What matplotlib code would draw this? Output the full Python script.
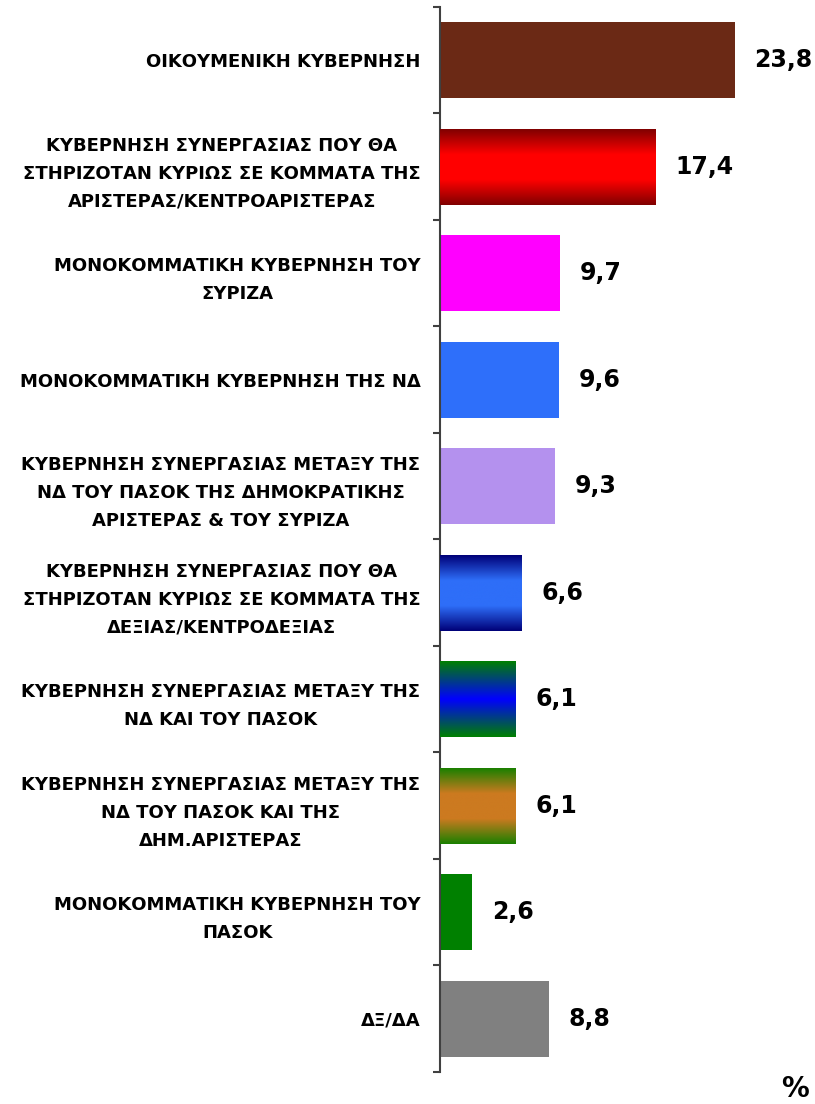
import numpy as np
import matplotlib.pyplot as plt
from matplotlib.colors import LinearSegmentedColormap

# Δεδομένα του γραφήματος
labels = [
    "ΟΙΚΟΥΜΕΝΙΚΗ ΚΥΒΕΡΝΗΣΗ",
    "ΚΥΒΕΡΝΗΣΗ ΣΥΝΕΡΓΑΣΙΑΣ ΠΟΥ ΘΑ\nΣΤΗΡΙΖΟΤΑΝ ΚΥΡΙΩΣ ΣΕ ΚΟΜΜΑΤΑ ΤΗΣ\nΑΡΙΣΤΕΡΑΣ/ΚΕΝΤΡΟΑΡΙΣΤΕΡΑΣ",
    "ΜΟΝΟΚΟΜΜΑΤΙΚΗ ΚΥΒΕΡΝΗΣΗ ΤΟΥ\nΣΥΡΙΖΑ",
    "ΜΟΝΟΚΟΜΜΑΤΙΚΗ ΚΥΒΕΡΝΗΣΗ ΤΗΣ ΝΔ",
    "ΚΥΒΕΡΝΗΣΗ ΣΥΝΕΡΓΑΣΙΑΣ ΜΕΤΑΞΥ ΤΗΣ\nΝΔ ΤΟΥ ΠΑΣΟΚ ΤΗΣ ΔΗΜΟΚΡΑΤΙΚΗΣ\nΑΡΙΣΤΕΡΑΣ & ΤΟΥ ΣΥΡΙΖΑ",
    "ΚΥΒΕΡΝΗΣΗ ΣΥΝΕΡΓΑΣΙΑΣ ΠΟΥ ΘΑ\nΣΤΗΡΙΖΟΤΑΝ ΚΥΡΙΩΣ ΣΕ ΚΟΜΜΑΤΑ ΤΗΣ\nΔΕΞΙΑΣ/ΚΕΝΤΡΟΔΕΞΙΑΣ",
    "ΚΥΒΕΡΝΗΣΗ ΣΥΝΕΡΓΑΣΙΑΣ ΜΕΤΑΞΥ ΤΗΣ\nΝΔ ΚΑΙ ΤΟΥ ΠΑΣΟΚ",
    "ΚΥΒΕΡΝΗΣΗ ΣΥΝΕΡΓΑΣΙΑΣ ΜΕΤΑΞΥ ΤΗΣ\nΝΔ ΤΟΥ ΠΑΣΟΚ ΚΑΙ ΤΗΣ\nΔΗΜ.ΑΡΙΣΤΕΡΑΣ",
    "ΜΟΝΟΚΟΜΜΑΤΙΚΗ ΚΥΒΕΡΝΗΣΗ ΤΟΥ\nΠΑΣΟΚ",
    "ΔΞ/ΔΑ",
]
values = [23.8, 17.4, 9.7, 9.6, 9.3, 6.6, 6.1, 6.1, 2.6, 8.8]
value_text = ["23,8", "17,4", "9,7", "9,6", "9,3", "6,6", "6,1", "6,1", "2,6", "8,8"]

# Χρώματα: μονό χρώμα ή λίστα χρωμάτων (από πάνω προς τα κάτω) για διαβάθμιση
colors = [
    "#6B2915",
    ["#800000", "#FF0000", "#FF0000", "#800000"],
    "#FF00FF",
    "#2E6FFA",
    "#B491EE",
    ["#000078", "#2E6EF8", "#2E6EF8", "#000078"],
    ["#008000", "#0000FF", "#008000"],
    ["#1A8000", "#CC7A20", "#CC7A20", "#1A8000"],
    "#008000",
    "#808080",
]

fig = plt.figure(figsize=(8.15, 11.04), dpi=100)
ax = fig.add_axes([440 / 815, 1 - 1072 / 1104, 1 - 440 / 815, (1072 - 7) / 1104])

n = len(values)
y = np.arange(n)
bar_h = 0.71
bars = ax.barh(y, values, height=bar_h, color=[c if isinstance(c, str) else c[1] for c in colors],
               edgecolor="none", zorder=2)

# Διαβάθμιση στις μπάρες που τη χρειάζονται
grad = np.linspace(0, 1, 256).reshape(-1, 1)
for b, c in zip(bars, colors):
    if isinstance(c, str):
        continue
    cmap = LinearSegmentedColormap.from_list("g", c)
    x0, y0 = b.get_x(), b.get_y()
    im = ax.imshow(grad, cmap=cmap, aspect="auto", zorder=3,
                   extent=[x0, x0 + b.get_width(), y0 + b.get_height(), y0])
    im.set_clip_path(b)

ax.set_xlim(0, 375 / (295 / 23.8))
ax.set_ylim(n - 0.5, -0.5)

# Ετικέτες τιμών
for i, (v, t) in enumerate(zip(values, value_text)):
    ax.annotate(t, (v, i), xytext=(14, 0), textcoords="offset points",
                ha="left", va="center", fontsize=17, fontweight="bold", color="black")

# Άξονες
for s in ["top", "right", "bottom"]:
    ax.spines[s].set_visible(False)
ax.spines["left"].set_color("#404040")
ax.spines["left"].set_linewidth(1.5)
ax.set_xticks([])
ax.set_yticks(np.arange(n + 1) - 0.5)
ax.set_yticklabels([])
ax.tick_params(axis="y", which="major", length=5, width=1.5, color="#404040", direction="out")
ax.set_yticks(y, minor=True)
ax.set_yticklabels(labels, minor=True, fontsize=13, fontweight="bold", linespacing=1.72)
ax.tick_params(axis="y", which="minor", length=0, pad=14)
for t in ax.get_yticklabels(minor=True):
    t.set_multialignment("center")

fig.text(795 / 815, 1 - 1089 / 1104, "%", fontsize=20, fontweight="bold", ha="center", va="center")

fig.savefig("out.png", dpi=100)
